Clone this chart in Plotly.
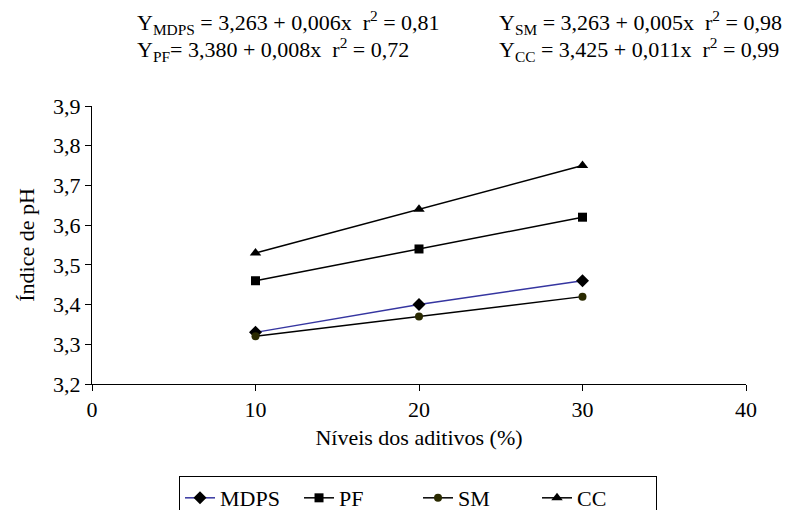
import plotly.graph_objects as go

niveis = [10, 20, 30]
mdps = [3.33, 3.40, 3.46]
pf = [3.46, 3.54, 3.62]
sm = [3.32, 3.37, 3.42]
cc = [3.53, 3.64, 3.75]

series = [
    ("MDPS", mdps, "#3535a0", "diamond", "black", 10),
    ("PF", pf, "black", "square", "black", 9),
    ("SM", sm, "black", "circle", "#2a2a00", 8),
    ("CC", cc, "black", "triangle-up", "black", 10),
]

FONT = "Liberation Serif"
FS = 22

fig = go.Figure()
for name, vals, lc, sym, mc, ms in series:
    fig.add_trace(go.Scatter(
        x=niveis, y=vals, name=name, mode="lines+markers",
        line=dict(color=lc, width=1.5),
        marker=dict(symbol=sym, color=mc, size=ms, line=dict(width=0)),
    ))

fig.update_layout(
    width=795, height=510,
    margin=dict(l=92, r=49, t=106, b=126, autoexpand=False),
    paper_bgcolor="white", plot_bgcolor="white",
    separators=", ",
    font=dict(family=FONT, size=FS, color="black"),
    showlegend=True,
    legend=dict(
        orientation="h", x=0.4985, xanchor="center", y=-0.331, yanchor="top",
        bordercolor="black", borderwidth=1, font=dict(size=FS, family=FONT),
        tracegroupgap=0, entrywidth=74, entrywidthmode="pixels",
    ),
    xaxis=dict(
        range=[0, 40], tickvals=[0, 10, 20, 30, 40], showgrid=False, zeroline=False,
        showline=True, linecolor="black", linewidth=1, ticks="outside", ticklen=6,
        tickcolor="black", tickfont=dict(size=FS),
        title=dict(text="Níveis dos aditivos (%)", standoff=8, font=dict(size=FS)),
    ),
    yaxis=dict(
        range=[3.2, 3.9], dtick=0.1, tickformat=".1f", showgrid=False, zeroline=False,
        showline=True, linecolor="black", linewidth=1, ticks="outside", ticklen=6,
        tickcolor="black", tickfont=dict(size=FS),
        title=dict(text="Índice de pH", standoff=12, font=dict(size=FS)),
    ),
)

eqs = [
    (0.066, 1.302, "Y<sub>MDPS</sub> = 3,263 + 0,006x  r<sup>2</sup> = 0,81"),
    (0.619, 1.302, "Y<sub>SM</sub> = 3,263 + 0,005x  r<sup>2</sup> = 0,98"),
    (0.066, 1.205, "Y<sub>PF</sub>= 3,380 + 0,008x  r<sup>2</sup> = 0,72"),
    (0.619, 1.205, "Y<sub>CC</sub> = 3,425 + 0,011x  r<sup>2</sup> = 0,99"),
]
for x, y, t in eqs:
    fig.add_annotation(x=x, y=y, xref="paper", yref="paper", text=t,
                       showarrow=False, xanchor="left", yanchor="middle",
                       font=dict(size=FS, family=FONT))

fig.write_html("out.html")
